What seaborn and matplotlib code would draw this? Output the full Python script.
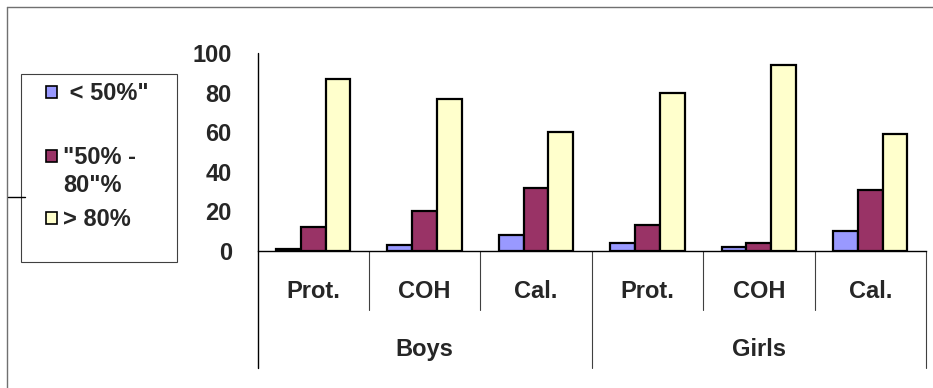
import matplotlib
matplotlib.use("Agg")
import matplotlib.pyplot as plt
import matplotlib.transforms as mtransforms
from matplotlib.lines import Line2D
from matplotlib.patches import Rectangle
import pandas as pd
import seaborn as sns

# ---- data -------------------------------------------------------------
groups = ["Boys", "Girls"]
nutrients = ["Prot.", "COH", "Cal."]
bands = [' < 50%"', '"50% -\n80"%', "> 80%"]
below_50 = [1, 3, 8, 4, 2, 10]
mid_50_80 = [12, 20, 32, 13, 4, 31]
above_80 = [87, 77, 60, 80, 94, 59]
yticks = [0, 20, 40, 60, 80, 100]
colors = ["#9999FF", "#993366", "#FFFFCC"]

# ---- style ------------------------------------------------------------
sns.set_style("white")
plt.rcParams["font.family"] = ["Liberation Sans", "DejaVu Sans"]
plt.rcParams["font.weight"] = "bold"
FS = 17

W, H = 933, 388
fig = plt.figure(figsize=(W / 100, H / 100), dpi=100)


def fx(px):
    return px / W


def fy(py):
    return 1 - py / H


ax_l, ax_r, ax_t, ax_b = 257.5, 926, 53, 251
ax = fig.add_axes([fx(ax_l), fy(ax_b), (ax_r - ax_l) / W, (ax_b - ax_t) / H])

rows = []
slots = [f"{g} {n}" for g in groups for n in nutrients]
for k, slot in enumerate(slots):
    for band, vals in zip(bands, [below_50, mid_50_80, above_80]):
        rows.append({"slot": slot, "band": band, "value": vals[k]})
df = pd.DataFrame(rows)

sns.barplot(
    data=df, x="slot", y="value", hue="band",
    order=slots, hue_order=bands, palette=colors, saturation=1,
    width=0.667, gap=0, edgecolor="black", linewidth=1.6,
    errorbar=None, legend=False, ax=ax,
)

ax.set_xlim(-0.5, len(slots) - 0.5)
ax.set_ylim(0, 100)
ax.set_xlabel("")
ax.set_ylabel("")
ax.set_xticks([])
ax.set_yticks(yticks)
ax.tick_params(axis="y", direction="out", length=5, width=0.8,
               color="black", pad=13.5, labelsize=FS)
for lbl in ax.get_yticklabels():
    lbl.set_fontweight("bold")
for s in ["top", "right", "left"]:
    ax.spines[s].set_visible(False)
ax.spines["bottom"].set_color("black")
ax.spines["bottom"].set_linewidth(1.0)

# ---- two-level category axis ------------------------------------------
span = (ax_b - ax_t)


def ay(py):
    return (ax_b - py) / span


blend = mtransforms.blended_transform_factory(ax.transData, ax.transAxes)
n_n = len(nutrients)
for k, slot in enumerate(slots):
    ax.text(k, ay(297.5), nutrients[k % n_n], transform=blend,
            ha="center", va="baseline", fontsize=FS, fontweight="bold")
for gi, g in enumerate(groups):
    ax.text(gi * n_n + (n_n - 1) / 2, ay(356), g, transform=blend,
            ha="center", va="baseline", fontsize=FS, fontweight="bold")

# left axis line running down through the category rows
ax.add_line(Line2D([-0.5, -0.5], [1, ay(368)], transform=blend,
                   color="black", lw=1.0, clip_on=False))
for b in range(1, len(slots) + 1):
    x = b - 0.5
    bottom = ay(368) if b % n_n == 0 else ay(310)
    ax.add_line(Line2D([x, x], [0, bottom], transform=blend,
                       color="#404040", lw=0.8, clip_on=False))

# ---- legend box ---------------------------------------------------------
fig.add_artist(Rectangle((fx(20.7), fy(261.7)), (177.3 - 20.7) / W,
                         (261.7 - 74) / H, transform=fig.transFigure,
                         facecolor="white", edgecolor="#404040", lw=0.8))
key_y = [92, 156, 218]
sq = 11.6
line_step = 28.3
for band, col, cy in zip(bands, colors, key_y):
    fig.add_artist(Rectangle((fx(45.7), fy(cy + sq / 2)), sq / W, sq / H,
                             transform=fig.transFigure, facecolor=col,
                             edgecolor="black", lw=1.2))
    for li, part in enumerate(band.split("\n")):
        fig.text(fx(63), fy(cy + 8 + li * line_step), part, ha="left",
                 va="baseline", fontsize=FS, fontweight="bold")

# ---- outer frame --------------------------------------------------------
fig.add_artist(Line2D([fx(7), fx(933)], [fy(7), fy(7)],
                      transform=fig.transFigure, color="#707070", lw=1.0))
fig.add_artist(Line2D([fx(7), fx(7)], [fy(7), fy(388)],
                      transform=fig.transFigure, color="#707070", lw=1.0))
fig.add_artist(Line2D([fx(8), fx(25)], [fy(197), fy(197)],
                      transform=fig.transFigure, color="black", lw=1.0))

fig.savefig("out.png", dpi=100)
